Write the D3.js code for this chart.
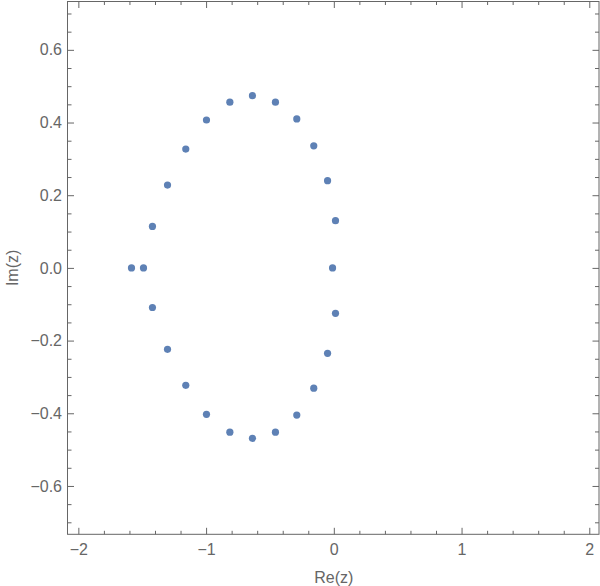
<!DOCTYPE html>
<html>
<head>
<meta charset="utf-8">
<script src="https://cdn.jsdelivr.net/npm/d3@7.9.0/dist/d3.min.js"></script>
<style>
  body { margin: 0; background: #fff; }
  text { font-family: "Liberation Sans", Arial, sans-serif; fill: #666; }
</style>
</head>
<body>
<svg id="chart" width="600" height="586"></svg>
<script>
// roots in the complex plane
const reParts = [-1.584, -1.490, -1.420, -1.302, -1.159, -0.997, -0.814, -0.637, -0.457, -0.290, -0.157, -0.049, 0.013, -0.010,
  -1.420, -1.302, -1.159, -0.997, -0.814, -0.637, -0.457, -0.290, -0.157, -0.049, 0.013];
const imParts = [0, 0, 0.114, 0.228, 0.327, 0.407, 0.456, 0.474, 0.456, 0.410, 0.336, 0.240, 0.130, 0,
  -0.109, -0.224, -0.323, -0.403, -0.452, -0.469, -0.452, -0.405, -0.331, -0.235, -0.125];

const xTicks = [-2, -1, 0, 1, 2];
const xTickLabels = ["\u22122", "\u22121", "0", "1", "2"];
const yTicks = [-0.6, -0.4, -0.2, 0, 0.2, 0.4, 0.6];
const yTickLabels = ["\u22120.6", "\u22120.4", "\u22120.2", "0.0", "0.2", "0.4", "0.6"];

const svg = d3.select("#chart");
const frameL = 67.5, frameR = 599, frameT = 1.5, frameB = 534.3;

const x = d3.scaleLinear().domain([-2.085, 2.076]).range([frameL, frameR]);
const y = d3.scaleLinear().domain([-0.733, 0.733]).range([frameB, frameT]);

// minor ticks: every 0.2 on x, every 0.05 on y
const xMinor = d3.range(-20, 21, 2).map(d => d / 10).filter(d => !xTicks.includes(d));
const yMinor = d3.range(-14, 15).map(d => d / 20).filter(d => Math.abs(d * 5 - Math.round(d * 5)) > 1e-9);

function addAxis(gen, tx, ty) {
  const g = svg.append("g").attr("transform", `translate(${tx},${ty})`).call(gen);
  g.select(".domain").remove();
  g.selectAll("line").attr("stroke", "#666");
  g.selectAll("text").attr("fill", "#666").style("font-size", "16px")
    .style("font-family", '"Liberation Sans", Arial, sans-serif');
  return g;
}

// bottom
addAxis(d3.axisBottom(x).tickValues(xTicks).tickFormat((d, i) => xTickLabels[i]).tickSize(-6.5).tickPadding(9), 0, frameB);
addAxis(d3.axisBottom(x).tickValues(xMinor).tickFormat("").tickSize(-3.5), 0, frameB);
// top
addAxis(d3.axisTop(x).tickValues(xTicks).tickFormat("").tickSize(-6.5), 0, frameT);
addAxis(d3.axisTop(x).tickValues(xMinor).tickFormat("").tickSize(-3.5), 0, frameT);
// left
addAxis(d3.axisLeft(y).tickValues(yTicks).tickFormat((d, i) => yTickLabels[i]).tickSize(-6.5).tickPadding(5.5), frameL, 0);
addAxis(d3.axisLeft(y).tickValues(yMinor).tickFormat("").tickSize(-4), frameL, 0);
// right
addAxis(d3.axisRight(y).tickValues(yTicks).tickFormat("").tickSize(-6.5), frameR, 0);
addAxis(d3.axisRight(y).tickValues(yMinor).tickFormat("").tickSize(-4), frameR, 0);

// frame
svg.append("rect")
  .attr("x", frameL).attr("y", frameT)
  .attr("width", frameR - frameL).attr("height", frameB - frameT)
  .attr("fill", "none").attr("stroke", "#666").attr("stroke-width", 1);

// points
svg.append("g").selectAll("circle")
  .data(reParts.map((re, i) => ({ re, im: imParts[i] })))
  .join("circle")
  .attr("cx", d => x(d.re))
  .attr("cy", d => y(d.im))
  .attr("r", 3.6)
  .attr("fill", "#5e81b5");

// axis labels
svg.append("text")
  .attr("x", x(0)).attr("y", 583.3)
  .attr("text-anchor", "middle")
  .style("font-size", "16px")
  .text("Re(z)");

svg.append("text")
  .attr("transform", `translate(17.5,${y(0)}) rotate(-90)`)
  .attr("text-anchor", "middle")
  .style("font-size", "16px")
  .text("Im(z)");
</script>
</body>
</html>
